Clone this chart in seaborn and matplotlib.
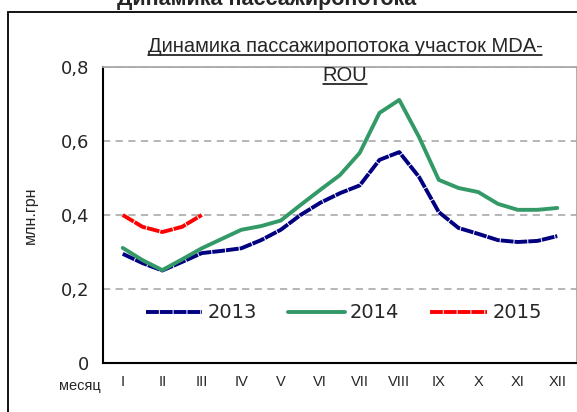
import numpy as np
import pandas as pd
import seaborn as sns
import matplotlib.pyplot as plt
from matplotlib.lines import Line2D
from matplotlib.patches import Rectangle

# values, half-month steps (month index 0 = I)
months = ["I", "II", "III", "IV", "V", "VI", "VII", "VIII", "IX", "X", "XI", "XII"]
pos_full = [0, 0.5, 1, 1.5, 2, 2.5, 3, 3.5, 4, 4.5, 5, 5.5, 6, 6.5, 7, 7.5, 8, 8.5, 9, 9.5, 10, 10.5, 11]
pos_2015 = [0, 0.5, 1, 1.5, 2]

y2013 = [0.295, 0.27, 0.25, 0.273, 0.297, 0.303, 0.31, 0.332, 0.36, 0.40, 0.433, 0.459,
         0.48, 0.549, 0.57, 0.503, 0.408, 0.365, 0.349, 0.332, 0.327, 0.33, 0.343]
y2014 = [0.311, 0.278, 0.251, 0.28, 0.31, 0.335, 0.36, 0.37, 0.385, 0.427, 0.468, 0.508,
         0.568, 0.676, 0.711, 0.611, 0.495, 0.473, 0.462, 0.43, 0.414, 0.414, 0.419]
y2015 = [0.40, 0.368, 0.354, 0.368, 0.40]

yticks = [0, 0.2, 0.4, 0.6, 0.8]
ytick_labels = ["0", "0,2", "0,4", "0,6", "0,8"]

df = pd.concat([
    pd.DataFrame({"pos": pos_full, "val": y2013, "year": "2013"}),
    pd.DataFrame({"pos": pos_full, "val": y2014, "year": "2014"}),
    pd.DataFrame({"pos": pos_2015, "val": y2015, "year": "2015"}),
])

sns.set_style("white")
plt.rcParams["font.family"] = ["Liberation Sans", "DejaVu Sans"]
wide = ["DejaVu Sans"]

fig = plt.figure(figsize=(5.77, 4.12), dpi=100)
ax = fig.add_axes([103 / 577, 1 - 363 / 412, 474 / 577, 296 / 412])

palette = {"2013": "#000080", "2014": "#339966", "2015": "#ff0000"}
dashes = {"2013": (3.3, 0.25), "2014": "", "2015": (3.3, 0.25)}
sns.lineplot(data=df, x="pos", y="val", hue="year", style="year", palette=palette,
             dashes=dashes, linewidth=2.8, ax=ax, sort=False)

ax.set_xlim(-0.5, 11.5)
ax.set_ylim(0, 0.8)
ax.set_yticks(yticks)
ax.set_yticklabels(ytick_labels, fontsize=13, family=wide)
ax.yaxis.grid(True, color="#b0b0b0", linestyle=(0, (4, 3)), linewidth=1.3)
ax.set_axisbelow(True)

ax.set_xticks(np.arange(-0.5, 12, 1))
ax.set_xticklabels([])
ax.set_xticks(np.arange(12), minor=True)
ax.set_xticklabels(months, minor=True, fontsize=10.5)
ax.tick_params(axis="x", which="major", direction="out", length=5, width=1.3, color="black")
ax.tick_params(axis="x", which="minor", length=0, pad=9)
ax.tick_params(axis="y", direction="out", length=5, width=1.3, color="black", pad=5)

for s in ["left", "bottom"]:
    ax.spines[s].set_color("black")
    ax.spines[s].set_linewidth(1.5)
for s in ["top", "right"]:
    ax.spines[s].set_color("#a8a8a8")
    ax.spines[s].set_linewidth(1.3)

ax.set_xlabel("")
ax.set_ylabel("млн.грн", fontsize=11.5)
ax.yaxis.set_label_coords(-0.137, 0.5)
ax.text(-0.004, -0.078, "месяц", transform=ax.transAxes, ha="right", va="center",
        fontsize=10.5)

handles, labels = ax.get_legend_handles_labels()
leg = ax.legend(handles, labels, ncol=3, loc="center", bbox_to_anchor=(0.508, 0.169),
                frameon=False, handlelength=2.9, columnspacing=1.6,
                handletextpad=0.28, prop={"family": wide, "size": 14})

# outer chart border and titles
fig.patches.append(Rectangle((8 / 577, -0.05), 1.1, 1 - 12 / 412 + 0.05,
                             transform=fig.transFigure, fill=False,
                             edgecolor="black", linewidth=1.3))
fig.text(267 / 577, 1 - 5 / 412, "Динамика пассажиропотока", ha="center", va="baseline",
         fontsize=15.5, fontweight="bold")

t1 = fig.text(345 / 577, 1 - 52 / 412, "Динамика пассажиропотока участок MDA-",
              ha="center", va="baseline", fontsize=14.5)
t2 = fig.text(345 / 577, 1 - 81 / 412, "ROU", ha="center", va="baseline",
              fontsize=14.5)
fig.canvas.draw()
r = fig.canvas.get_renderer()
for t in (t1, t2):
    bb = t.get_window_extent(r).transformed(fig.transFigure.inverted())
    yb = t.get_position()[1] - 2.5 / 412
    fig.lines.append(Line2D([bb.x0, bb.x1], [yb, yb], transform=fig.transFigure,
                            color="black", linewidth=1.1))

fig.savefig("out.png", dpi=100)
